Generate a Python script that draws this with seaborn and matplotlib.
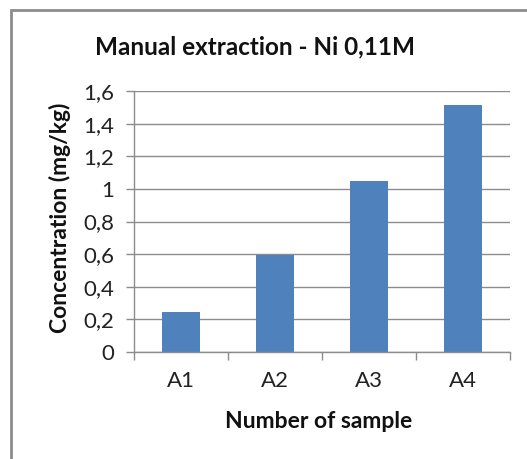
import matplotlib
matplotlib.use("Agg")
import matplotlib.pyplot as plt
import seaborn as sns
import pandas as pd
from matplotlib.patches import Rectangle
from matplotlib.ticker import FuncFormatter

samples = ["A1", "A2", "A3", "A4"]
concentration = [0.245, 0.592, 1.051, 1.516]
yticks = [0, 0.2, 0.4, 0.6, 0.8, 1.0, 1.2, 1.4, 1.6]

sns.set_theme(style="white")
plt.rcParams["font.family"] = ["Lato", "DejaVu Sans"]

W, H = 527, 459
fig = plt.figure(figsize=(W / 100, H / 100), dpi=100)
ax = fig.add_axes([134 / W, 1 - 352 / H, (510 - 134) / W, (352 - 91) / H])

df = pd.DataFrame({"sample": samples, "value": concentration})
sns.barplot(data=df, x="sample", y="value", color="#4F81BD", width=0.4,
            saturation=1, ax=ax, edgecolor="none")

ax.set_ylim(0, 1.6)
ax.set_xlim(-0.5, 3.5)
ax.set_yticks(yticks)
ax.yaxis.set_major_formatter(FuncFormatter(lambda v, p: (f"{v:.1f}".rstrip("0").rstrip(".")).replace(".", ",")))
ax.yaxis.grid(True, color="#8c8c8c", linewidth=1)
ax.set_axisbelow(True)
for s in ["top", "right"]:
    ax.spines[s].set_visible(False)
for s in ["left", "bottom"]:
    ax.spines[s].set_color("#8c8c8c")
    ax.spines[s].set_linewidth(1)

ax.set_xticks([-0.5, 0.5, 1.5, 2.5, 3.5], minor=False)
ax.set_xticklabels([])
ax.set_xticks([0, 1, 2, 3], minor=True)
ax.set_xticklabels(samples, minor=True)
ax.tick_params(axis="x", which="major", length=6, color="#8c8c8c", width=1, direction="out", bottom=True)
ax.tick_params(axis="x", which="minor", length=0, labelsize=16, colors="#222222", pad=14)
ax.tick_params(axis="y", length=6, color="#8c8c8c", width=1, direction="out", left=True,
               labelsize=16, labelcolor="#222222", pad=8)

ax.set_xlabel("")
ax.set_ylabel("")
fig.text(319 / W, 1 - 421 / H, "Number of sample", ha="center", va="center",
         fontsize=16.5, fontweight="bold", color="#111111")
fig.text(60 / W, 1 - 218 / H, "Concentration (mg/kg)", ha="center", va="center",
         rotation=90, fontsize=16.5, fontweight="bold", color="#111111")
fig.text(255 / W, 1 - 47 / H, "Manual extraction - Ni 0,11M", ha="center", va="center",
         fontsize=17.5, fontweight="bold", color="#111111")

fig.patches.append(Rectangle((11 / W, -0.1), 1.2, 1 - 10 / H + 0.1, transform=fig.transFigure,
                             fill=False, edgecolor="#8c8c8c", linewidth=2, figure=fig))

fig.savefig("out.png", dpi=100)
